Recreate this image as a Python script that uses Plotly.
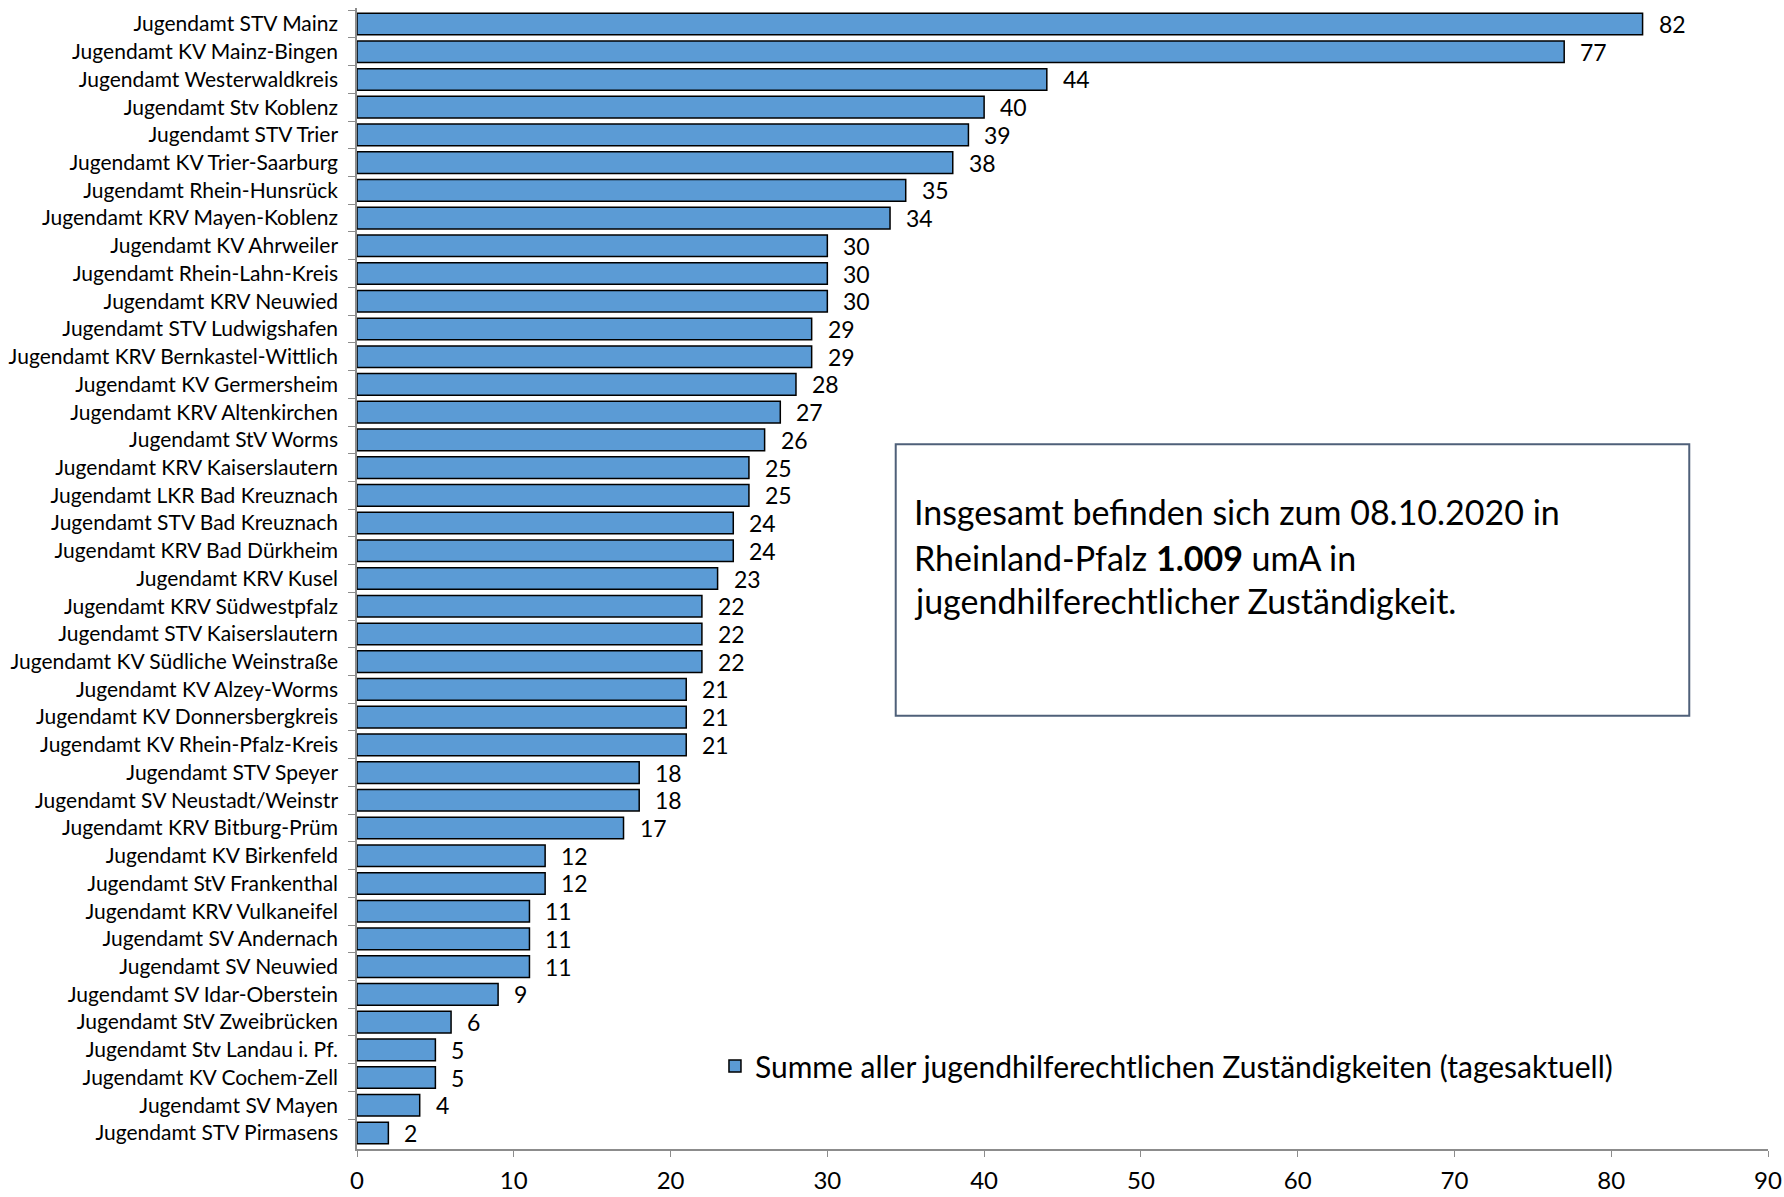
import plotly.graph_objects as go

categories = [
    "Jugendamt STV Mainz", "Jugendamt KV Mainz-Bingen", "Jugendamt Westerwaldkreis",
    "Jugendamt Stv Koblenz", "Jugendamt STV Trier", "Jugendamt KV Trier-Saarburg",
    "Jugendamt Rhein-Hunsrück", "Jugendamt KRV Mayen-Koblenz", "Jugendamt KV Ahrweiler",
    "Jugendamt Rhein-Lahn-Kreis", "Jugendamt KRV Neuwied", "Jugendamt STV Ludwigshafen",
    "Jugendamt KRV Bernkastel-Wittlich", "Jugendamt KV Germersheim", "Jugendamt KRV Altenkirchen",
    "Jugendamt StV Worms", "Jugendamt KRV Kaiserslautern", "Jugendamt LKR Bad Kreuznach",
    "Jugendamt STV Bad Kreuznach", "Jugendamt KRV Bad Dürkheim", "Jugendamt KRV Kusel",
    "Jugendamt KRV Südwestpfalz", "Jugendamt STV Kaiserslautern", "Jugendamt KV Südliche Weinstraße",
    "Jugendamt KV Alzey-Worms", "Jugendamt KV Donnersbergkreis", "Jugendamt KV Rhein-Pfalz-Kreis",
    "Jugendamt STV Speyer", "Jugendamt SV Neustadt/Weinstr", "Jugendamt KRV Bitburg-Prüm",
    "Jugendamt KV Birkenfeld", "Jugendamt StV Frankenthal", "Jugendamt KRV Vulkaneifel",
    "Jugendamt SV Andernach", "Jugendamt SV Neuwied", "Jugendamt SV Idar-Oberstein",
    "Jugendamt StV Zweibrücken", "Jugendamt Stv Landau i. Pf.", "Jugendamt KV Cochem-Zell",
    "Jugendamt SV Mayen", "Jugendamt STV Pirmasens",
]
values = [82, 77, 44, 40, 39, 38, 35, 34, 30, 30, 30, 29, 29, 28, 27, 26, 25, 25, 24, 24,
          23, 22, 22, 22, 21, 21, 21, 18, 18, 17, 12, 12, 11, 11, 11, 9, 6, 5, 5, 4, 2]
series_name = "Summe aller jugendhilferechtlichen Zuständigkeiten (tagesaktuell)"
x_ticks = [0, 10, 20, 30, 40, 50, 60, 70, 80, 90]
box_lines = [
    "Insgesamt befinden sich zum 08.10.2020 in",
    "Rheinland-Pfalz <b>1.009</b> umA in",
    "jugendhilferechtlicher Zuständigkeit.",
]

FONT = "Lato"
fig = go.Figure()
fig.add_trace(go.Bar(
    x=values, y=categories, orientation="h", name=series_name,
    marker=dict(color="#5B9BD5", line=dict(color="#000000", width=1.5)),
    showlegend=True,
))

for c, v in zip(categories, values):
    fig.add_annotation(x=v, y=c, xref="x", yref="y", text=str(v), showarrow=False,
                       xanchor="left", yanchor="middle", xshift=14,
                       font=dict(family=FONT, size=23, color="#000"))

# text box
fig.add_shape(type="rect", xref="paper", yref="paper", x0=0.3818, x1=0.9442,
              y0=0.3798, y1=0.6176, line=dict(color="#4F6079", width=2),
              fillcolor="rgba(255,255,255,0)", layer="above")
for yy, t in zip([0.5585, 0.5182, 0.4805], box_lines):
    fig.add_annotation(x=0.3933, y=yy, xref="paper", yref="paper", text=t,
                       showarrow=False, xanchor="left", yanchor="middle",
                       font=dict(family=FONT, size=34, color="#000"))

fig.update_layout(
    width=1784, height=1197,
    margin=dict(l=357, r=16, t=8, b=48),
    paper_bgcolor="white", plot_bgcolor="white",
    bargap=0.22,
    font=dict(family=FONT, color="#000"),
    legend=dict(x=0.2537, y=0.0727, xanchor="left", yanchor="middle",
                font=dict(family=FONT, size=30, color="#000"),
                bgcolor="rgba(0,0,0,0)", itemwidth=30),
    xaxis=dict(range=[0, 90], tickvals=x_ticks, showgrid=False, zeroline=False,
               showline=True, linecolor="#8C8C8C", linewidth=1.5,
               ticks="outside", ticklen=6, tickcolor="#8C8C8C",
               tickfont=dict(family=FONT, size=24, color="#000"),
               ticklabelstandoff=3, automargin=False, ticklabeloverflow="allow"),
    yaxis=dict(autorange="reversed", showgrid=False, zeroline=False,
               showline=True, linecolor="#8C8C8C", linewidth=1.5,
               ticks="outside", ticklen=7, tickcolor="#8C8C8C", tickson="boundaries",
               tickfont=dict(family=FONT, size=21, color="#000"),
               ticklabelstandoff=13, automargin=False),
)

fig.write_html("out.html", config={"displayModeBar": False},
               post_script="document.body.style.margin='0';")
